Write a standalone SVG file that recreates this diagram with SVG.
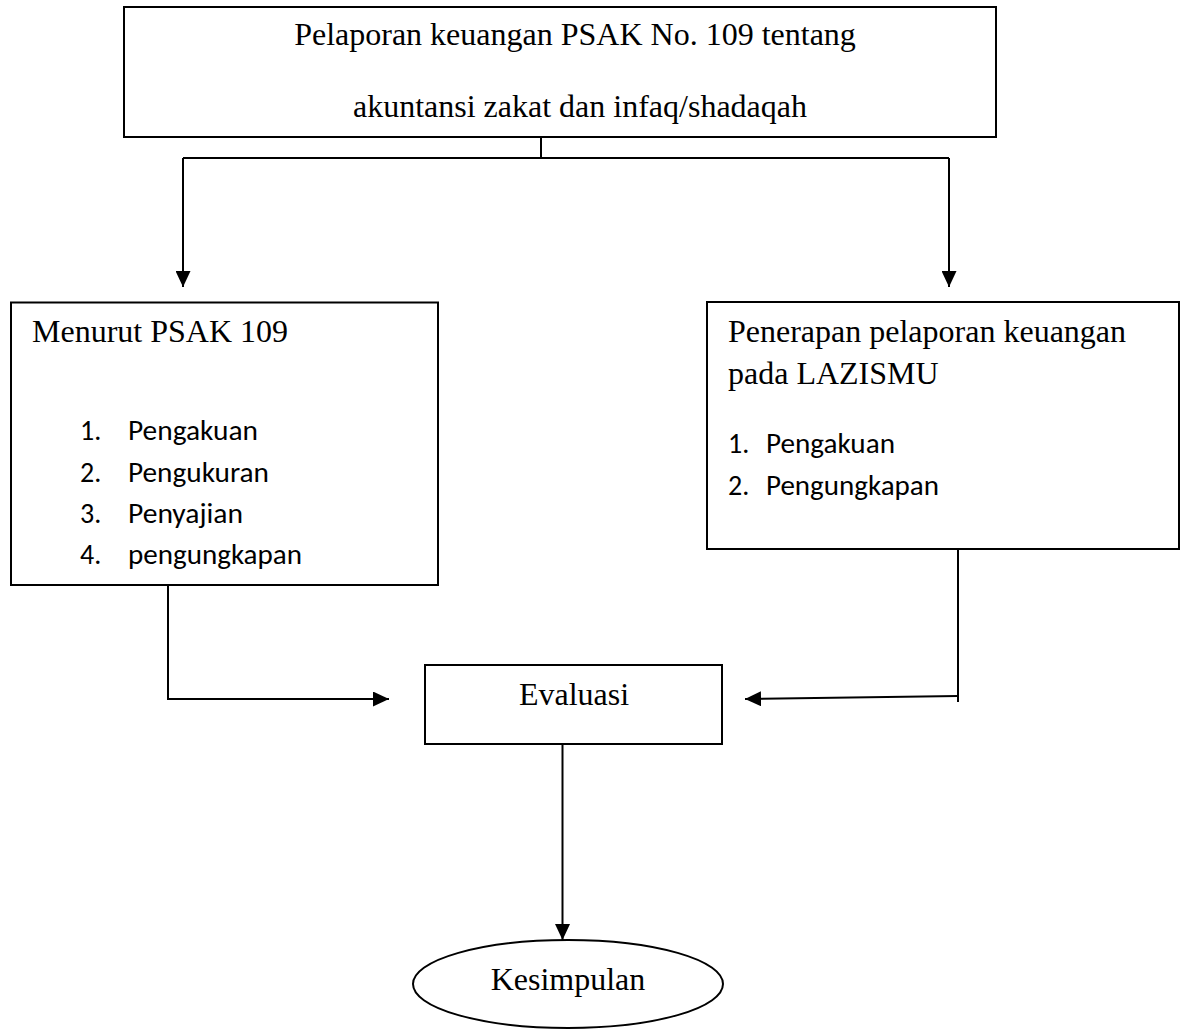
<svg xmlns="http://www.w3.org/2000/svg" width="1187" height="1029" viewBox="0 0 1187 1029">
<style>
.box{fill:#fff;stroke:#000;stroke-width:2}
.serif{font-family:"Liberation Serif","Times New Roman",serif;font-size:32px;fill:#000}
.sans{font-family:Carlito,Calibri,Lato,"Open Sans",sans-serif;font-size:28px;fill:#000}
.con{fill:none;stroke:#000;stroke-width:2}
</style>
<defs>
<marker id="arr" viewBox="0 0 16 15" refX="16" refY="7.5" markerWidth="16" markerHeight="15" orient="auto" markerUnits="userSpaceOnUse">
<path d="M0,0 L16,7.5 L0,15 z" fill="#000"/>
</marker>
</defs>
<rect width="1187" height="1029" fill="#fff"/>
<g id="connectors">
<path class="con" d="M541,137 V158"/>
<path class="con" d="M183,158 H949"/>
<path class="con" d="M183,158 V287" marker-end="url(#arr)"/>
<path class="con" d="M949,158 V287" marker-end="url(#arr)"/>
<path class="con" d="M168,585 V699 H389" marker-end="url(#arr)"/>
<path class="con" d="M958,549 V702"/>
<path class="con" d="M958,696 L745,699" marker-end="url(#arr)"/>
<path class="con" d="M562.5,744 V940" marker-end="url(#arr)"/>
</g>
<g id="node-top">
<rect class="box" x="124" y="7" width="872" height="130"/>
<text class="serif" x="575" y="45" text-anchor="middle">Pelaporan keuangan PSAK No. 109 tentang</text>
<text class="serif" x="580" y="117" text-anchor="middle">akuntansi zakat dan infaq/shadaqah</text>
</g>
<g id="node-psak">
<rect class="box" x="11" y="302.5" width="427" height="282.5"/>
<text class="serif" x="32" y="342">Menurut PSAK 109</text>
<text class="sans" x="80" y="440">1.</text>
<text class="sans" x="128" y="440" textLength="130" lengthAdjust="spacingAndGlyphs">Pengakuan</text>
<text class="sans" x="80" y="482">2.</text>
<text class="sans" x="128" y="482" textLength="141" lengthAdjust="spacingAndGlyphs">Pengukuran</text>
<text class="sans" x="80" y="523">3.</text>
<text class="sans" x="128" y="523" textLength="115" lengthAdjust="spacingAndGlyphs">Penyajian</text>
<text class="sans" x="80" y="564">4.</text>
<text class="sans" x="128" y="564" textLength="174" lengthAdjust="spacingAndGlyphs">pengungkapan</text>
</g>
<g id="node-lazismu">
<rect class="box" x="707" y="302" width="472" height="247"/>
<text class="serif" x="728" y="342">Penerapan pelaporan keuangan</text>
<text class="serif" x="728" y="384">pada LAZISMU</text>
<text class="sans" x="728" y="453">1.</text>
<text class="sans" x="766" y="453" textLength="129" lengthAdjust="spacingAndGlyphs">Pengakuan</text>
<text class="sans" x="728" y="495">2.</text>
<text class="sans" x="766" y="495" textLength="173" lengthAdjust="spacingAndGlyphs">Pengungkapan</text>
</g>
<g id="node-evaluasi">
<rect class="box" x="425" y="665" width="297" height="79"/>
<text class="serif" x="574" y="705" text-anchor="middle">Evaluasi</text>
</g>
<g id="node-kesimpulan">
<ellipse class="box" cx="568" cy="984" rx="155" ry="44"/>
<text class="serif" x="568" y="990" text-anchor="middle">Kesimpulan</text>
</g>
</svg>
